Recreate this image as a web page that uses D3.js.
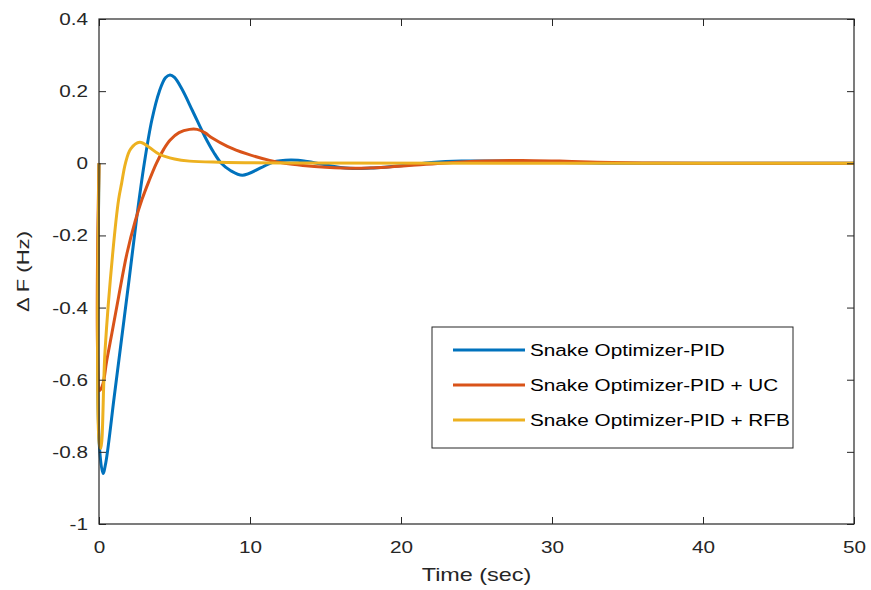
<!DOCTYPE html>
<html><head><meta charset="utf-8">
<script src="https://cdn.jsdelivr.net/npm/d3@7"></script>
<style>body{margin:0;background:#fff;}svg{display:block;font-family:"Liberation Sans",Arial,sans-serif;}</style>
</head><body>
<svg id="chart" width="871" height="590"></svg>
<script>
const xTicks = [0, 10, 20, 30, 40, 50];
const yTicks = [-1, -0.8, -0.6, -0.4, -0.2, 0, 0.2, 0.4];
const seriesNames = ["Snake Optimizer-PID", "Snake Optimizer-PID + UC", "Snake Optimizer-PID + RFB"];
const seriesColors = ["#0072BD", "#D95319", "#EDB120"];

const timeBlue = [0, 0.02, 0.27, 0.45, 1.0, 1.5, 2.0, 2.5, 3.0, 3.5, 4.0, 4.4, 4.7, 5.0, 5.5, 6.2, 7.0, 7.6, 8.1, 8.7, 9.5, 10.7, 11.5, 12.7, 13.8, 14.8, 16.6, 18, 20.4, 22, 24, 27, 30, 34, 40, 50];
const valBlue  = [0, -0.78, -0.86, -0.83, -0.65, -0.485, -0.32, -0.15, 0.0, 0.12, 0.2, 0.237, 0.245, 0.238, 0.205, 0.145, 0.075, 0.03, 0.0, -0.02, -0.033, -0.013, 0.003, 0.009, 0.005, -0.003, -0.014, -0.013, -0.005, 0.002, 0.006, 0.006, 0.003, 0, 0, 0];

const timeOrange = [0, 0.05, 0.27, 0.5, 0.86, 1.3, 1.85, 2.4, 2.85, 3.3, 3.8, 4.3, 4.7, 5.3, 6.0, 6.5, 7.0, 7.5, 8.5, 9.8, 11.3, 12.3, 13.5, 15, 17, 19, 21, 23, 25.5, 28, 30.5, 33, 36, 40, 50];
const valOrange  = [0, -0.63, -0.61, -0.55, -0.47, -0.37, -0.25, -0.16, -0.1, -0.05, 0.0, 0.04, 0.064, 0.085, 0.094, 0.094, 0.085, 0.07, 0.047, 0.026, 0.008, 0.0, -0.006, -0.011, -0.014, -0.011, -0.005, 0.001, 0.006, 0.008, 0.006, 0.003, 0.001, 0, 0];

const timeYellow = [0, 0.03, 0.12, 0.4, 0.93, 1.3, 1.5, 1.75, 2.1, 2.7, 3.3, 4, 5, 6, 8, 12, 50];
const valYellow  = [0, -0.78, -0.79, -0.52, -0.24, -0.1, -0.055, 0, 0.04, 0.058, 0.045, 0.025, 0.012, 0.006, 0.003, 0.001, 0];

const series = [
  {name: seriesNames[0], color: seriesColors[0], t: timeBlue, v: valBlue},
  {name: seriesNames[1], color: seriesColors[1], t: timeOrange, v: valOrange},
  {name: seriesNames[2], color: seriesColors[2], t: timeYellow, v: valYellow}
];

const svg = d3.select("#chart");
const L = 99, R = 854, T = 19, B = 524;
const x = d3.scaleLinear().domain([0, 50]).range([L, R]);
const y = d3.scaleLinear().domain([-1, 0.4]).range([B, T]);
const axisColor = "#262626";
const tickLen = 7;
const SX = 1.22;

const line = d3.line().x(d => x(d[0])).y(d => y(d[1])).curve(d3.curveCatmullRom.alpha(0.5));
const gLines = svg.append("g");
series.forEach(s => {
  gLines.append("path")
    .datum(s.t.map((t, i) => [t, s.v[i]]))
    .attr("fill", "none").attr("stroke", s.color).attr("stroke-width", 3)
    .attr("stroke-linejoin", "round").attr("d", line);
});

function stretch(sel, s) {
  sel.each(function() {
    const ax = +(this.getAttribute("x") || 0);
    d3.select(this).attr("transform", `translate(${ax},0) scale(${s},1) translate(${-ax},0)`);
  });
}
function styleAxis(g) {
  g.select(".domain").remove();
  g.selectAll(".tick line").attr("stroke", axisColor);
  g.selectAll(".tick text").attr("fill", axisColor).style("font-size", "17px").style("font-family", "'Liberation Sans', Arial, sans-serif");
  stretch(g.selectAll(".tick text"), SX);
}
svg.append("g").attr("transform", `translate(0,${B})`)
  .call(d3.axisBottom(x).tickValues(xTicks).tickFormat(d => String(d)).tickSizeInner(-tickLen).tickSizeOuter(0).tickPadding(17))
  .call(styleAxis);
svg.append("g").attr("transform", `translate(${L},0)`)
  .call(d3.axisLeft(y).tickValues(yTicks).tickFormat(d => String(+d.toFixed(1))).tickSizeInner(-tickLen).tickSizeOuter(0).tickPadding(11))
  .call(styleAxis);
svg.append("g").attr("transform", `translate(0,${T})`)
  .call(d3.axisTop(x).tickValues(xTicks).tickFormat("").tickSizeInner(-tickLen).tickSizeOuter(0))
  .call(styleAxis);
svg.append("g").attr("transform", `translate(${R},0)`)
  .call(d3.axisRight(y).tickValues(yTicks).tickFormat("").tickSizeInner(-tickLen).tickSizeOuter(0))
  .call(styleAxis);

svg.append("rect").attr("x", L).attr("y", T).attr("width", R - L).attr("height", B - T)
  .attr("fill", "none").attr("stroke", axisColor).attr("stroke-width", 1.2);

svg.append("text").attr("transform", `translate(${(L + R) / 2},581) scale(1.3,1)`).attr("text-anchor", "middle")
  .attr("fill", axisColor).style("font-size", "18px").text("Time (sec)");
svg.append("text").attr("transform", `translate(29,${(T + B) / 2}) rotate(-90) scale(1.3,1)`).attr("text-anchor", "middle")
  .attr("fill", axisColor).style("font-size", "17px").text("\u0394 F (Hz)");

const lg = svg.append("g");
lg.append("rect").attr("x", 432).attr("y", 327).attr("width", 361).attr("height", 121)
  .attr("fill", "#fff").attr("stroke", axisColor).attr("stroke-width", 1);
series.forEach((s, i) => {
  const yy = 350 + i * 35;
  lg.append("line").attr("x1", 453).attr("x2", 525).attr("y1", yy).attr("y2", yy)
    .attr("stroke", s.color).attr("stroke-width", 3);
  lg.append("text").attr("x", 530).attr("y", yy + 6).attr("fill", "#000")
    .style("font-size", "17px").text(s.name)
    .call(stretch, SX);
});
</script>
</body></html>
